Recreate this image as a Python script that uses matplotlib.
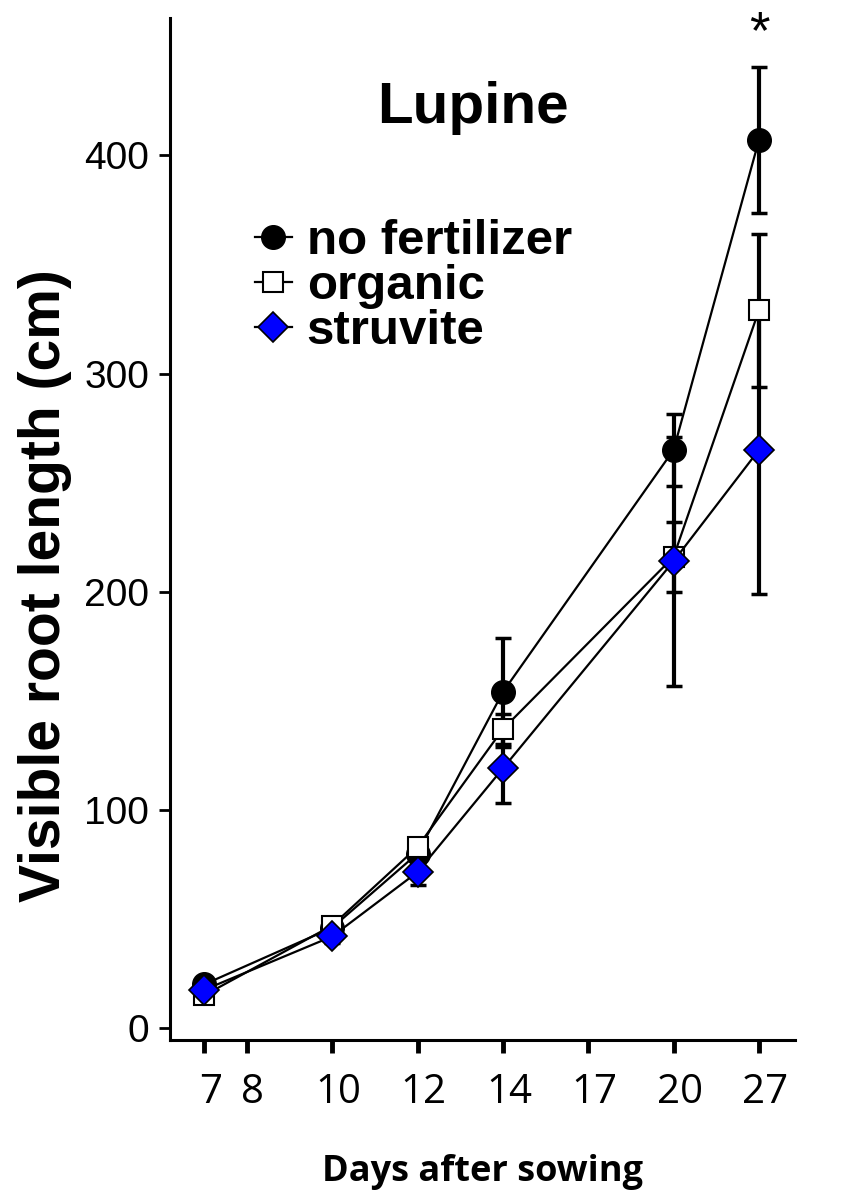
import matplotlib
matplotlib.use("Agg")
import matplotlib.pyplot as plt
import matplotlib.transforms as mtransforms

# sampling days and where each x tick label sits on the ordinal axis
days = [7, 10, 12, 14, 20, 27]
tick_days = [7, 8, 10, 12, 14, 17, 20, 27]
tick_pos = [0.5, 1, 2, 3, 4, 5, 6, 7]

no_fert = [20, 46, 80, 154, 265, 407]
no_fert_err = [2, 3, 4, 25, 16.5, 33.5]
organic = [15, 47, 83, 137, 216, 329]
organic_err = [2, 3, 4, 7, 16, 35]
struvite = [17.5, 42, 71.5, 119, 214, 265]
struvite_err = [2, 3, 6, 16, 57, 66]

y_ticks = [0, 100, 200, 300, 400]

pos_of = dict(zip(tick_days, tick_pos))
x = [pos_of[d] for d in days]

bold = {"family": "Liberation Sans", "weight": "bold"}

fig = plt.figure(figsize=(8.5, 12.01), dpi=100)
ax = fig.add_axes([0.2, 0.134, 0.735, 0.851])

series = [
    ("no fertilizer", no_fert, no_fert_err, dict(marker="o", ms=17, mfc="black", mec="black")),
    ("organic", organic, organic_err, dict(marker="s", ms=15, mfc="white", mec="black", mew=1.5)),
    ("struvite", struvite, struvite_err, dict(marker="D", ms=15, mfc="#0000ff", mec="black", mew=1.2)),
]

handles = []
for i, (label, vals, errs, style) in enumerate(series):
    ax.errorbar(x, vals, yerr=errs, fmt="none", ecolor="black", elinewidth=3,
                capsize=6, capthick=2.5, zorder=2 + i)
    (ln,) = ax.plot(x, vals, color="black", lw=1.6, label=label, zorder=5 + i, **style)
    handles.append(ln)

ax.set_xlim(0.1, 7.42)
ax.set_ylim(-5.5, 463)
ax.set_xticks(tick_pos, [str(d) for d in tick_days])
ax.set_yticks(y_ticks)

for side in ("top", "right"):
    ax.spines[side].set_visible(False)
for side in ("left", "bottom"):
    ax.spines[side].set_linewidth(2.2)

ax.tick_params(axis="x", length=9, width=3.5, pad=14)
ax.tick_params(axis="y", length=8, width=2, pad=7)
shift = mtransforms.ScaledTranslation(0.06, 0, fig.dpi_scale_trans)
for t in ax.get_xticklabels():
    t.set_fontfamily("Open Sans")
    t.set_fontsize(29)
    t.set_transform(t.get_transform() + shift)
for t in ax.get_yticklabels():
    t.set_fontfamily("Liberation Sans")
    t.set_fontsize(28)

ax.set_xlabel("Days after sowing", fontfamily="Open Sans", fontweight="bold",
              fontsize=26, labelpad=30)
ax.set_ylabel("Visible root length (cm)", fontsize=41, **bold)
ax.yaxis.set_label_coords(-0.157, 0.445)

ax.text(0.485, 0.912, "Lupine", transform=ax.transAxes, ha="center", va="center",
        fontsize=42, **bold)
ax.text(pos_of[27], 444, "*", ha="center", va="bottom", fontsize=38,
        fontfamily="Liberation Sans")

ax.legend(handles=handles, loc="upper left", bbox_to_anchor=(0.136, 0.803),
          frameon=False, handlelength=0.75, handletextpad=0.3, labelspacing=0.0,
          borderpad=0, borderaxespad=0,
          prop={"family": "Liberation Sans", "weight": "bold", "size": 35.5})

fig.savefig("out.png", dpi=100)
